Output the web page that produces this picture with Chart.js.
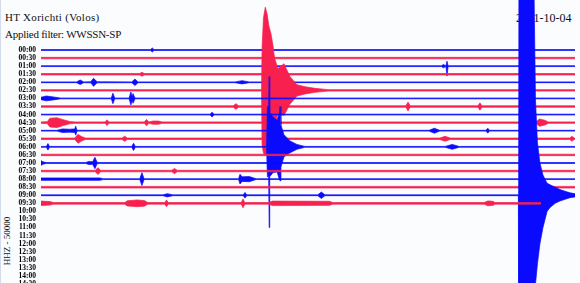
<!DOCTYPE html>
<html>
<head>
<meta charset="utf-8">
<title>HT Xorichti (Volos)</title>
<script src="https://cdn.jsdelivr.net/npm/chart.js@4.4.1/dist/chart.umd.min.js"></script>
<style>
  html, body { margin: 0; padding: 0; background: #fbfcfe; }
  #wrap { position: relative; width: 580px; height: 283px; overflow: hidden; }
  .txt { position: absolute; font-family: "Liberation Serif", "DejaVu Serif", serif; color: #111; white-space: nowrap; line-height: 1; }
  #station { left: 5px; top: 12px; font-size: 11px; letter-spacing: 0.3px; }
  #filter { left: 5px; top: 29px; font-size: 11px; letter-spacing: -0.25px; }
  #day { left: 516px; top: 12px; font-size: 12px; }
  #chan { left: 7px; top: 241px; font-size: 9px; transform: translate(-50%, -50%) rotate(-90deg); }
  #edge { position: absolute; left: 0; top: 0; width: 1px; height: 283px; background: #d3dcec; }
  canvas { position: absolute; left: 0; top: 0; }
</style>
</head>
<body>
<div id="wrap">
  <div id="edge"></div>
  <div class="txt" id="station">HT Xorichti (Volos)</div>
  <div class="txt" id="filter">Applied filter: WWSSN-SP</div>
  <div class="txt" id="day">2011-10-04</div>
  <div class="txt" id="chan">HHZ - 50000</div>
  <canvas id="heli" width="580" height="283"></canvas>
</div>
<script>
// one line = 30 minutes, values are [minute, amplitude up, amplitude down]
// amplitudes are in units of the line spacing (down defaults to up)
const timeLabels = ['00:00', '00:30', '01:00', '01:30', '02:00', '02:30', '03:00', '03:30', '04:00', '04:30',
    '05:00', '05:30', '06:00', '06:30', '07:00', '07:30', '08:00', '08:30', '09:00', '09:30',
    '10:00', '10:30', '11:00', '11:30', '12:00', '12:30', '13:00', '13:30', '14:00', '14:30'];

const trace0000 = [[0, .05], [6.15, .05], [6.25, .25], [6.35, .05], [30, .05]];
const trace0030 = [[0, .09], [30, .09]];
const trace0100 = [[0, .05], [22.5, .05], [22.6, .2], [22.75, .05], [22.81, .62, 1.24], [22.87, .05], [30, .05]];
const trace0130 = [[0, .09], [5.55, .09], [5.67, .25], [5.8, .09], [30, .09]];
const trace0200 = [[0, .05], [2.0, .05], [2.2, .28], [2.4, .05], [2.8, .07], [2.95, .5], [3.15, .07], [5.1, .05],
    [5.28, .4], [5.45, .05], [10.9, .05], [11.3, .2], [11.7, .05], [30, .05]];
const trace0230 = [[0, .09], [12.39, .09], [12.42, 5.3, 6.8], [12.5, 9.0, 7.8], [12.6, 10.3, 8.0], [12.7, 9.5, 7.8],
    [12.8, 8.0, 7.6], [12.92, 7.0, 7.4], [13.03, 5.6, 6.8], [13.12, 4.0, 4.5], [13.31, 2.7, 2.9], [13.65, 3.3, 3.1],
    [13.99, 1.7, 1.7], [14.38, .7], [14.83, .45], [15.39, .25], [16.12, .09], [30, .09]];
const trace0300 = [[0, .15], [0.3, .3], [0.8, .15], [1.1, .05], [3.95, .05], [4.04, .65], [4.14, .05], [4.95, .05],
    [5.05, .8], [5.12, .25], [5.17, .6], [5.28, .05], [30, .05]];
const trace0330 = [[0, .09], [10.8, .09], [10.95, .35], [11.1, .09], [20.5, .09], [20.62, .55], [20.74, .09],
    [24.55, .09], [24.66, .45], [24.77, .09], [30, .09]];
const trace0400 = [[0, .05], [9.5, .05], [9.61, .3], [9.72, .05], [30, .05]];
const trace0430 = [[0, .09], [0.35, .12], [0.5, .55], [0.9, .6], [1.2, .4], [1.6, .15], [1.9, .09], [3.6, .09],
    [3.71, .35], [3.82, .09], [5.8, .09], [5.93, .4], [6.05, .09], [6.3, .2], [6.6, .2], [6.8, .09],
    [27.8, .09], [28.0, .45], [28.3, .3], [28.5, .09], [30, .09]];
const trace0500 = [[0, .05], [0.9, .05], [1.2, .22], [1.6, .18], [1.9, .22], [1.95, .55], [2.02, .07], [2.1, .05],
    [21.8, .05], [22.1, .3], [22.4, .05], [25.0, .05], [25.1, .3], [25.2, .05], [30, .05]];
const trace0530 = [[0, .09], [1.9, .09], [2.08, .55], [2.3, .25], [2.5, .09], [4.55, .09], [4.7, .32], [4.85, .09],
    [22.4, .09], [22.7, .3], [23.0, .09], [29.7, .09], [29.83, .3], [29.95, .09], [30, .09]];
const trace0600 = [[0, .05], [0.3, .05], [0.39, .4], [0.48, .05], [5.1, .05], [5.2, .45], [5.3, .05],
    [12.67, .05], [12.72, 5.0, 3.7], [12.79, 5.0, 3.7], [12.82, 8.7, 10.0], [12.85, 4.3, 3.7], [13.03, 3.7, 3.2],
    [13.26, 3.3, 3.1], [13.4, 4.3, 4.1], [13.43, 5.0, 4.2], [13.48, 2.7, 2.5], [13.65, 1.5, 1.24], [13.99, .74],
    [14.38, .3], [14.83, .05], [22.7, .05], [23.1, .3], [23.5, .05], [30, .05]];
const trace0630 = [[0, .09], [30, .09]];
const trace0700 = [[0, .3], [0.1, .15], [0.3, .05], [2.5, .05], [2.7, .2], [2.9, .15], [3.03, .7], [3.15, .1],
    [3.3, .05], [30, .05]];
const trace0730 = [[0, .09], [3.05, .09], [3.2, .42], [3.35, .09], [7.35, .09], [7.5, .32], [7.65, .09], [30, .09]];
const trace0800 = [[0, .15], [3.3, .15], [3.5, .05], [5.55, .05], [5.67, .8], [5.79, .05], [11.1, .05],
    [11.18, .6], [11.3, .28], [11.7, .32], [12.0, .1], [12.1, .05], [30, .05]];
const trace0830 = [[0, .1], [30, .1]];
const trace0900 = [[0, .05], [6.85, .05], [7.1, .2], [7.4, .05], [11.36, .05], [11.46, .35], [11.56, .05],
    [15.55, .05], [15.75, .4], [15.95, .05], [26.82, .05], [26.85, 30], [27.53, 30], [27.7, 25],
    [27.78, 11.8, 11.0], [27.89, 6.5, 8.5], [28.03, 4.0, 6.0], [28.2, 2.5, 4.0], [28.43, 1.5, 2.0],
    [28.6, 1.3, 1.5], [28.88, 1.0], [29.16, .7], [29.44, .5], [29.72, .3], [30, .2]];
const trace0930 = [[0, .28], [0.5, .22], [0.7, .1], [4.7, .1], [4.85, .32], [5.4, .42], [5.8, .35], [6.0, .1],
    [6.95, .1], [7.05, .42], [7.15, .1], [11.25, .1], [11.35, .55], [11.45, .1], [12.8, .1], [13.0, .28],
    [16.2, .25], [16.4, .1], [24.9, .1], [25.1, .3], [25.4, .25], [25.5, .1], [28.09, .1]];

const traces = [trace0000, trace0030, trace0100, trace0130, trace0200, trace0230, trace0300, trace0330,
    trace0400, trace0430, trace0500, trace0530, trace0600, trace0630, trace0700, trace0730,
    trace0800, trace0830, trace0900, trace0930];

const blue = '#0a0aff';
const red = '#f7204f';

// chart.js paints the first dataset last, so the latest line goes first
const datasets = [];
for (let row = traces.length - 1; row >= 0; row--) {
    const pts = traces[row];
    const color = row % 2 === 0 ? blue : red;
    const top = datasets.length;
    datasets.push({
        data: pts.map(p => ({ x: p[0], y: row - p[1] })),
        borderColor: color,
        borderWidth: 0.7,
        pointRadius: 0,
        fill: false
    });
    datasets.push({
        data: pts.map(p => ({ x: p[0], y: row + (p.length > 2 ? p[2] : p[1]) })),
        borderColor: color,
        borderWidth: 0.7,
        pointRadius: 0,
        backgroundColor: color,
        fill: top
    });
}

const ctx = document.getElementById('heli').getContext('2d');
const heli = new Chart(ctx, {
    type: 'line',
    data: { datasets: datasets },
    options: {
        responsive: false,
        animation: false,
        events: [],
        layout: { padding: { left: 0, right: 5, top: 0, bottom: 0 } },
        scales: {
            x: { type: 'linear', min: 0, max: 30, display: false },
            y: {
                type: 'linear',
                reverse: true,
                min: -6.196,
                max: 28.87,
                grid: { display: false, drawTicks: false },
                border: { display: false },
                afterFit: scale => {
                    scale.width = 41;
                    scale.paddingTop = 0;
                    scale.paddingBottom = 0;
                },
                afterBuildTicks: scale => {
                    scale.ticks = timeLabels.map((t, i) => ({ value: i }));
                },
                ticks: {
                    autoSkip: false,
                    padding: 5,
                    color: '#000',
                    font: { family: '"Liberation Serif", serif', size: 7.5, weight: 'bold' },
                    callback: value => timeLabels[value]
                }
            }
        },
        plugins: {
            legend: { display: false },
            tooltip: { enabled: false }
        }
    }
});
</script>
</body>
</html>
